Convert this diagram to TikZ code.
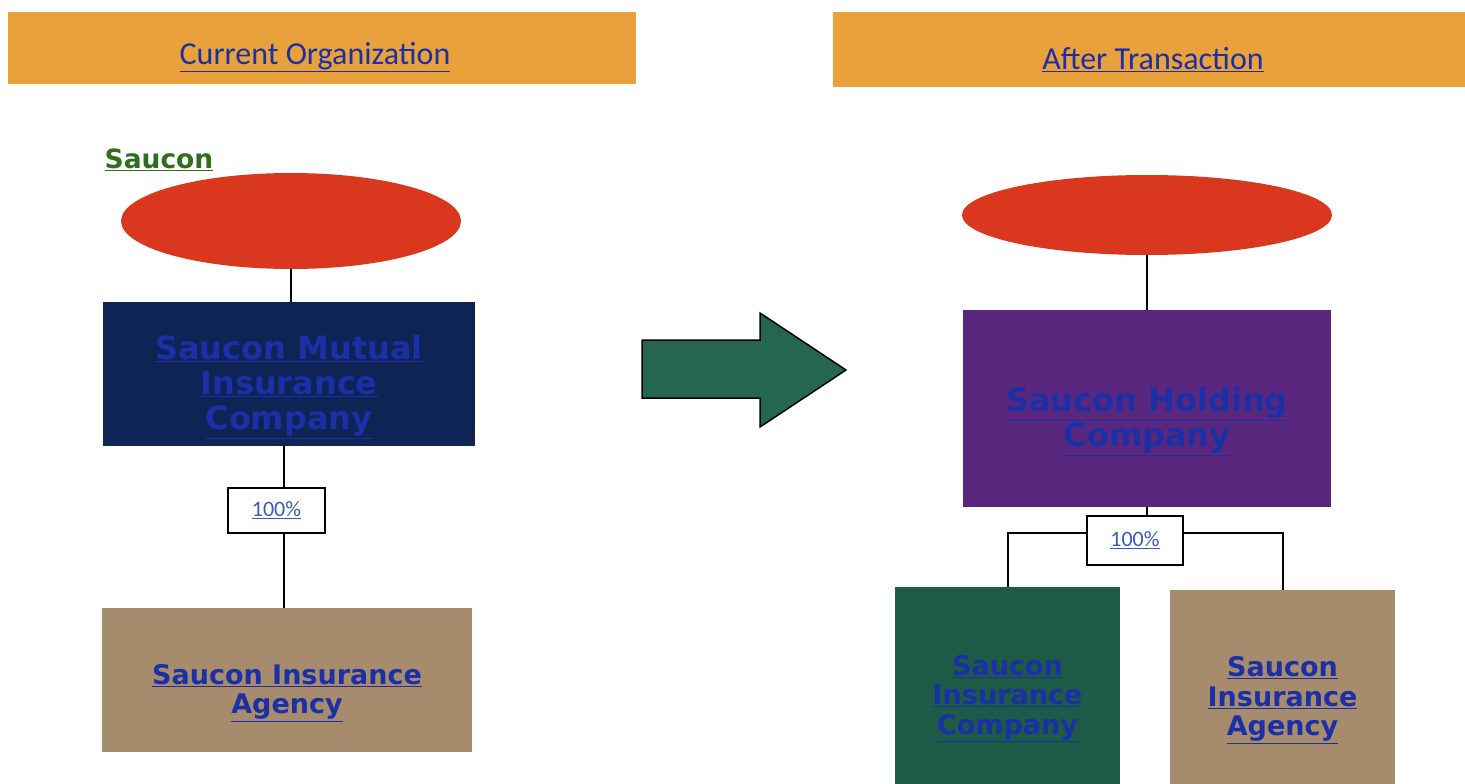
\documentclass[tikz,border=0pt]{standalone}
\usepackage{fontspec}
\setmainfont{DejaVu Sans}
\newfontfamily\calibri{Carlito}
\usetikzlibrary{shapes.geometric}

\definecolor{bannerorange}{HTML}{E9A23B}
\definecolor{ovalred}{HTML}{D9381E}
\definecolor{mutualnavy}{HTML}{0E2454}
\definecolor{holdpurple}{HTML}{59287E}
\definecolor{agencytan}{HTML}{A68B6D}
\definecolor{inscogreen}{HTML}{1D5B47}
\definecolor{arrowgreen}{HTML}{24664F}
\definecolor{linkblue}{HTML}{1B2FA6}
\definecolor{pctblue}{HTML}{3A5BB8}
\definecolor{sauconggreen}{HTML}{2E6E1E}

\begin{document}
\begin{tikzpicture}[x=1pt, y=-1pt,
  banner/.style={fill=bannerorange, inner sep=0pt, text=linkblue,
    font=\calibri\fontsize{32}{36}\selectfont},
  oval/.style={ellipse, fill=ovalred, inner sep=0pt},
  entity/.style={rectangle, inner sep=0pt},
  entitytext/.style={align=center, text=linkblue, inner sep=0pt, yshift=-13pt},
  bigtext/.style={font=\bfseries\fontsize{32}{35}\selectfont},
  smalltext/.style={font=\bfseries\fontsize{27}{29.5}\selectfont},
  pctbox/.style={rectangle, draw=black, line width=2pt, fill=white,
    inner sep=0pt, text=pctblue, font=\calibri\fontsize{22}{24}\selectfont},
  link/.style={line width=2pt}]
  \useasboundingbox (0,0) rectangle (1465,784);
  % Draw the two headings
  \node [banner, minimum width=628, minimum height=72] (curhead) at (322,48) {};
  \node [banner] at (315,57) {\underline{Current Organization}};
  \node [banner, minimum width=632, minimum height=75] (afthead) at (1149,49.5) {};
  \node [banner] at (1153,60) {\underline{After Transaction}};
  % Current organization
  \node [text=sauconggreen, font=\bfseries\fontsize{26.5}{29}\selectfont] (sauconlbl) at (159,160) {\underline{Saucon}};
  \node [oval, minimum width=340, minimum height=96] (lmember) at (291,221) {};
  \node [entity, fill=mutualnavy, minimum width=372, minimum height=144,
    label={[entitytext, bigtext]center:{\underline{Saucon Mutual}\\\underline{Insurance}\\\underline{Company}}}]
    (mutual) at (289,374) {};
  \node [pctbox, minimum width=97, minimum height=45] (lpct) at (276.5,510.5) {\underline{100\%}};
  \node [entity, fill=agencytan, minimum width=370, minimum height=144,
    label={[entitytext, smalltext]center:{\underline{Saucon Insurance}\\\underline{Agency}}}]
    (lagency) at (287,680) {};
  % Draw lines
  \draw [link] (mutual.south -| lpct.north) ++(7,0) -- ([xshift=7pt]lpct.north);
  \draw [link] (lmember.south) -- (lmember.south |- mutual.north);
  \draw [link] ([xshift=7pt]lpct.south) -- ([xshift=7pt]lpct.south |- lagency.north);
  % Draw transition arrow
  \draw [fill=arrowgreen, line width=1.5pt] (642,340) -- (760,340) -- (760,313) -- (846,370)
    -- (760,427) -- (760,398) -- (642,398) -- cycle;
  % After transaction
  \node [oval, minimum width=370, minimum height=80] (rmember) at (1147,215) {};
  \node [entity, fill=holdpurple, minimum width=368, minimum height=197,
    label={[entitytext, bigtext]center:{\underline{Saucon Holding}\\\underline{Company}}}]
    (holding) at (1147,408.5) {};
  \node [pctbox, minimum width=96, minimum height=49] (rpct) at (1135,540.5) {\underline{100\%}};
  \node [entity, fill=inscogreen, minimum width=225, minimum height=197,
    label={[entitytext, smalltext]center:{\underline{Saucon}\\\underline{Insurance}\\\underline{Company}}}]
    (insco) at (1007.5,685.5) {};
  \node [entity, fill=agencytan, minimum width=225, minimum height=194,
    label={[entitytext, smalltext]center:{\underline{Saucon}\\\underline{Insurance}\\\underline{Agency}}}]
    (ragency) at (1282.5,687) {};
  % Draw lines
  \draw [link] (rmember.south) -- (rmember.south |- holding.north);
  \draw [link] (holding.south) -- (holding.south |- rpct.north);
  \draw [link] ([yshift=8pt]rpct.west) -| (insco.north);
  \draw [link] ([yshift=8pt]rpct.east) -| (ragency.north);
\end{tikzpicture}
\end{document}
